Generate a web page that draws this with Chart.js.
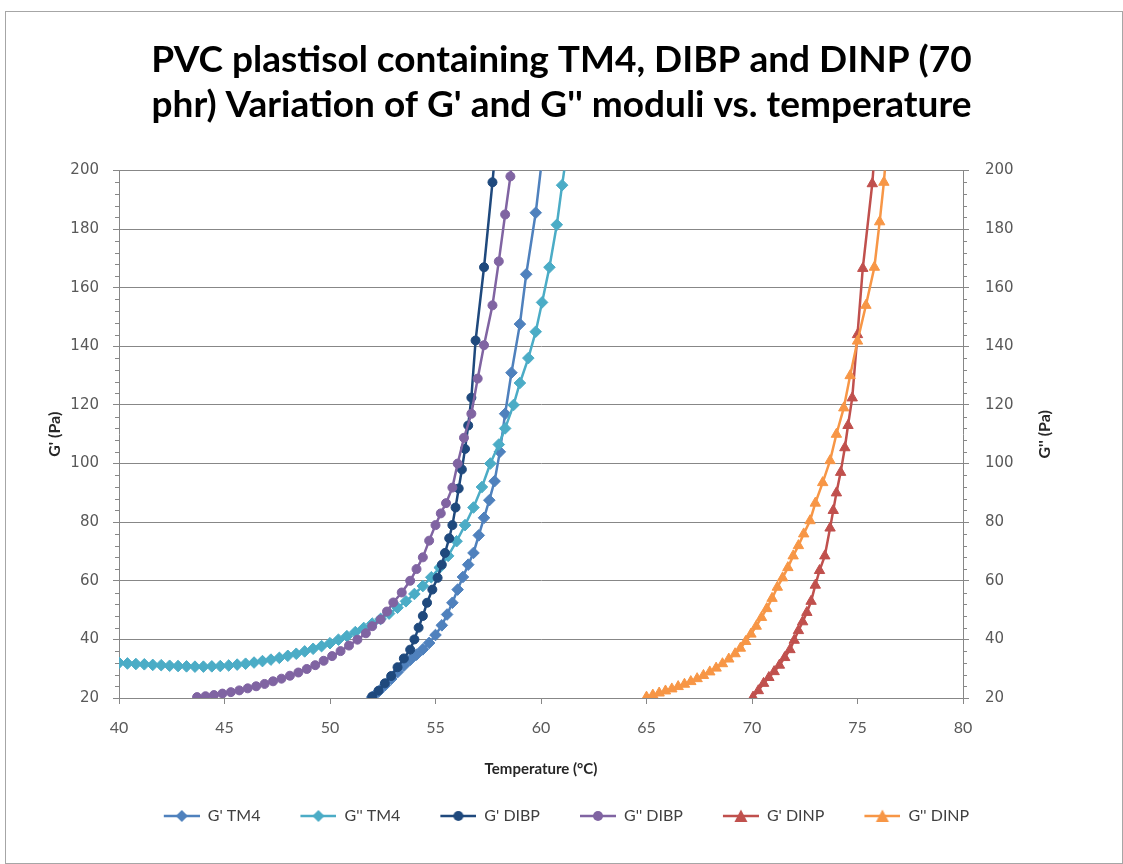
<!DOCTYPE html>
<html>
<head>
<meta charset="utf-8">
<script src="https://cdn.jsdelivr.net/npm/chart.js@4.4.1/dist/chart.umd.min.js"></script>
<style>
  html, body { margin: 0; padding: 0; background: #fff; }
  #frame { position: absolute; left: 5px; top: 11px; width: 1116px; height: 851px; border: 1px solid #a6a6a6; }
  canvas { position: absolute; left: 0; top: 0; }
</style>
</head>
<body>
<div id="frame"></div>
<canvas id="myChart" width="1123" height="864"></canvas>
<script>
const titleLines = ["PVC plastisol containing TM4, DIBP and DINP (70", "phr) Variation of G' and G'' moduli vs. temperature"];
const seriesNames = ["G' TM4", "G'' TM4", "G' DIBP", "G'' DIBP", "G' DINP", "G'' DINP"];
const yTicks = [20, 40, 60, 80, 100, 120, 140, 160, 180, 200];
const xTicks = [40, 45, 50, 55, 60, 65, 70, 75, 80];

// G' TM4
const tempGpTM4 = [52.0, 52.3, 52.6, 52.9, 53.2, 53.5, 53.8, 54.1, 54.4, 54.7, 55.0, 55.3, 55.55, 55.8, 56.05, 56.3, 56.55, 56.8, 57.05, 57.3, 57.55, 57.8, 58.05, 58.3, 58.6, 59.0, 59.3, 59.75, 60.05];
const valGpTM4 = [20.3, 22.2, 24.3, 26.5, 28.8, 31, 33, 34.8, 36.6, 38.8, 41.5, 44.8, 48.5, 52.5, 57, 61.3, 65.5, 69.5, 75.5, 81.5, 87.5, 94, 104, 117, 131, 147.6, 164.6, 185.6, 204];
// G'' TM4
const tempGppTM4 = [40.0, 40.4, 40.8, 41.2, 41.6, 42.0, 42.4, 42.8, 43.2, 43.6, 44.0, 44.4, 44.8, 45.2, 45.6, 46.0, 46.4, 46.8, 47.2, 47.6, 48.0, 48.4, 48.8, 49.2, 49.6, 50.0, 50.4, 50.8, 51.2, 51.6, 52.0, 52.4, 52.8, 53.2, 53.6, 54.0, 54.4, 54.8, 55.2, 55.6, 56.0, 56.4, 56.8, 57.2, 57.6, 58.0, 58.3, 58.7, 59.0, 59.4, 59.75, 60.05, 60.4, 60.75, 61.0, 61.2];
const valGppTM4 = [32.0, 31.8, 31.6, 31.5, 31.3, 31.2, 31.0, 30.9, 30.8, 30.7, 30.7, 30.8, 30.9, 31.1, 31.4, 31.7, 32.1, 32.6, 33.1, 33.7, 34.4, 35.1, 35.9, 36.8, 37.7, 38.7, 39.9, 41.1, 42.5, 43.9, 45.4, 47.0, 48.8, 50.8, 53.0, 55.5, 58.2, 61.2, 64.5, 68.5, 73.5, 79, 85, 92, 100, 106.5, 112, 120, 127.5, 136, 145, 155, 167, 181.5, 195, 205];
// G' DIBP
const tempGpDIBP = [52.0, 52.3, 52.6, 52.9, 53.2, 53.5, 53.8, 54.0, 54.2, 54.4, 54.6, 54.85, 55.1, 55.3, 55.45, 55.65, 55.8, 55.95, 56.1, 56.25, 56.4, 56.55, 56.7, 56.9, 57.3, 57.7, 57.85];
const valGpDIBP = [20.5, 22.5, 25, 27.5, 30.5, 33.5, 36.5, 40, 44, 48, 52.5, 57, 61, 65.5, 69.5, 74.5, 79, 85, 91.5, 98, 105, 113, 122.5, 142, 167, 196, 208];
// G'' DIBP
const tempGppDIBP = [43.7, 44.1, 44.5, 44.9, 45.3, 45.7, 46.1, 46.5, 46.9, 47.3, 47.7, 48.1, 48.5, 48.9, 49.3, 49.7, 50.1, 50.5, 50.9, 51.3, 51.7, 52.0, 52.4, 52.7, 53.0, 53.4, 53.8, 54.1, 54.4, 54.7, 55.0, 55.25, 55.5, 55.8, 56.05, 56.35, 56.7, 57.0, 57.3, 57.7, 58.0, 58.3, 58.55, 58.65];
const valGppDIBP = [20.3, 20.6, 21.0, 21.5, 22.0, 22.6, 23.3, 24.0, 24.8, 25.7, 26.6, 27.6, 28.7, 29.9, 31.2, 32.7, 34.3, 36.0, 37.9, 39.9, 42.1, 44.5, 46.8, 49.5, 52.6, 56, 60, 64, 68, 73.7, 79, 83, 86.5, 91.8, 100, 108.8, 117, 129, 140.4, 154, 169, 185, 198, 206];
// G' DINP
const tempGpDINP = [70.05, 70.3, 70.55, 70.8, 71.05, 71.3, 71.55, 71.8, 72.0, 72.2, 72.4, 72.6, 72.8, 73.0, 73.2, 73.45, 73.7, 73.85, 74.0, 74.2, 74.4, 74.55, 74.75, 75.0, 75.25, 75.7, 75.8];
const valGpDINP = [20.3, 22.5, 25, 27, 29, 31.2, 33.8, 36.5, 39.7, 43, 46, 49.2, 53, 58.5, 63.5, 68.5, 78, 84, 90, 97, 105.4, 113, 122.4, 144, 166.6, 195.5, 205];
// G'' DINP
const tempGppDINP = [65.0, 65.3, 65.6, 65.9, 66.2, 66.5, 66.8, 67.1, 67.4, 67.7, 68.0, 68.3, 68.6, 68.9, 69.2, 69.45, 69.7, 69.95, 70.2, 70.45, 70.7, 70.95, 71.2, 71.45, 71.7, 71.95, 72.2, 72.45, 72.75, 73.0, 73.35, 73.7, 74.0, 74.35, 74.65, 75.0, 75.4, 75.8, 76.05, 76.25, 76.35];
const valGppDINP = [20.3, 21.0, 21.7, 22.4, 23.1, 23.9, 24.7, 25.6, 26.6, 27.7, 28.9, 30.2, 31.7, 33.3, 35.1, 37.0, 39.3, 41.8, 44.5, 47.5, 50.5, 54, 57.8, 61, 64.5, 68.5, 72, 76, 80.5, 86.5, 93.5, 101, 110, 119, 130, 141.8, 154, 167, 182.5, 196, 205];

const colors = ["#4F81BD", "#4BACC6", "#1F497D", "#8064A2", "#C0504D", "#F79646"];
const markers = ["rectRot", "rectRot", "circle", "circle", "triangle", "triangle"];
const temps = [tempGpTM4, tempGppTM4, tempGpDIBP, tempGppDIBP, tempGpDINP, tempGppDINP];
const vals = [valGpTM4, valGppTM4, valGpDIBP, valGppDIBP, valGpDINP, valGppDINP];

const FONT = 'Lato, "Open Sans", sans-serif';
const GRID = "#878787";

function pts(xs, ys) {
  return xs.map((x, i) => ({ x: x, y: ys[i] }));
}

// little line + marker picture for the legend (blank strip on the left = gap to previous item)
function legendIcon(color, style) {
  const c = document.createElement("canvas");
  c.width = 46;
  c.height = 14;
  const g = c.getContext("2d");
  g.strokeStyle = color;
  g.fillStyle = color;
  g.lineWidth = 2.5;
  g.beginPath();
  g.moveTo(10, 7);
  g.lineTo(46, 7);
  g.stroke();
  g.beginPath();
  if (style === "rectRot") {
    g.moveTo(28, 1); g.lineTo(34, 7); g.lineTo(28, 13); g.lineTo(22, 7);
  } else if (style === "circle") {
    g.arc(28, 7, 5, 0, Math.PI * 2);
  } else {
    g.moveTo(28, 0.5); g.lineTo(34.5, 13); g.lineTo(21.5, 13);
  }
  g.closePath();
  g.fill();
  return c;
}

const datasets = seriesNames.map((name, i) => ({
  label: name,
  data: pts(temps[i], vals[i]),
  yAxisID: i % 2 === 0 ? "y" : "y2",
  showLine: true,
  borderColor: colors[i],
  backgroundColor: colors[i],
  borderWidth: 2.5,
  pointStyle: markers[i],
  pointRadius: markers[i] === "circle" ? 4.5 : markers[i] === "triangle" ? 6 : 5.8,
  pointBorderWidth: 1,
  order: 6 - i,
}));

const minorTicks = {
  id: "minorTicks",
  afterDraw(chart) {
    const c = chart.ctx;
    c.save();
    c.strokeStyle = GRID;
    c.lineWidth = 1;
    ["y", "y2"].forEach((id) => {
      const s = chart.scales[id];
      const x0 = id === "y" ? s.right : s.left;
      const dir = id === "y" ? -1 : 1;
      for (let v = 20; v <= 200; v += 4) {
        if (v % 20 === 0) continue;
        const py = Math.round(s.getPixelForValue(v)) + 0.5;
        c.beginPath();
        c.moveTo(x0, py);
        c.lineTo(x0 + dir * 4, py);
        c.stroke();
      }
    });
    // right axis title reads bottom to top, like Excel
    const s2 = chart.scales.y2;
    c.translate(1045, (s2.top + s2.bottom) / 2);
    c.rotate(-Math.PI / 2);
    c.fillStyle = "#262626";
    c.font = "bold 16px " + FONT;
    c.textAlign = "center";
    c.textBaseline = "middle";
    c.fillText("G'' (Pa)", 0, 0);
    c.restore();
  },
};

const ctx = document.getElementById("myChart").getContext("2d");

new Chart(ctx, {
  type: "scatter",
  data: { datasets: datasets },
  plugins: [minorTicks],
  options: {
    responsive: false,
    animation: false,
    layout: { padding: { top: 0, left: 0, right: 0, bottom: 30 } },
    scales: {
      x: {
        type: "linear",
        min: 40,
        max: 80,
        afterBuildTicks: (axis) => { axis.ticks = xTicks.map((v) => ({ value: v })); },
        afterFit: (s) => { s.height = 80; },
        grid: { drawOnChartArea: false, color: GRID, tickLength: 6 },
        border: { color: GRID },
        ticks: { color: "#595959", font: { family: FONT, size: 16 }, padding: 14 },
        title: { display: true, text: "Temperature (°C)", color: "#262626", font: { family: FONT, size: 15, weight: "bold" }, padding: { top: 0, bottom: 0 } },
      },
      y: {
        position: "left",
        min: 20,
        max: 200,
        afterBuildTicks: (axis) => { axis.ticks = yTicks.map((v) => ({ value: v })); },
        afterFit: (s) => { s.width = 119; },
        grid: { color: GRID, tickLength: 6 },
        border: { color: GRID },
        ticks: { color: "#595959", font: { family: "DejaVu Sans", size: 15 }, padding: 14 },
        title: { display: true, text: "G' (Pa)", color: "#262626", font: { family: FONT, size: 16, weight: "bold" }, padding: { top: 45 } },
      },
      y2: {
        position: "right",
        min: 20,
        max: 200,
        afterBuildTicks: (axis) => { axis.ticks = yTicks.map((v) => ({ value: v })); },
        afterFit: (s) => { s.width = 160; },
        grid: { drawOnChartArea: false, color: GRID, tickLength: 6 },
        border: { color: GRID },
        ticks: { color: "#595959", font: { family: "DejaVu Sans", size: 15 }, padding: 16 },
      },
    },
    plugins: {
      title: {
        display: true,
        text: titleLines,
        color: "#000",
        font: { family: FONT, size: 37, weight: "bold", lineHeight: 1.21 },
        padding: { top: 38, bottom: 43 },
      },
      legend: {
        position: "bottom",
        labels: {
          usePointStyle: true,
          pointStyleWidth: 46,
          padding: 30,
          color: "#404040",
          font: { family: FONT, size: 16 },
          generateLabels: (chart) => chart.data.datasets.map((ds, i) => ({
            text: ds.label,
            pointStyle: legendIcon(colors[i], markers[i]),
            fillStyle: colors[i],
            strokeStyle: colors[i],
            lineWidth: 0,
            hidden: false,
            datasetIndex: i,
            fontColor: "#404040",
          })),
        },
      },
      tooltip: { enabled: false },
    },
  },
});
</script>
</body>
</html>
